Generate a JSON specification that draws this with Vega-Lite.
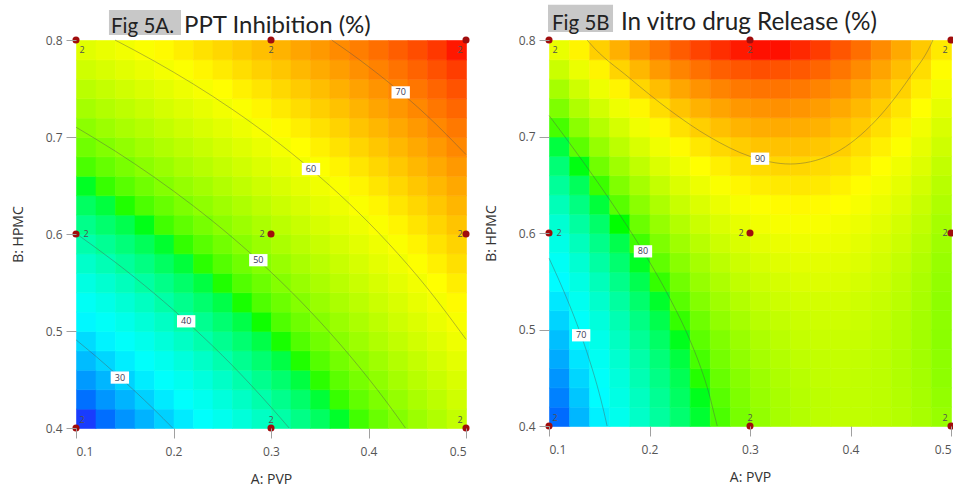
{
"$schema": "https://vega.github.io/schema/vega-lite/v6.json",
"background": "white",
"padding": {"left": 11, "top": 4, "right": 0, "bottom": 0},
"spacing": 14,
"resolve": {"scale": {"color": "independent", "stroke": "independent", "x": "independent", "y": "independent"}},
"config": {
 "view": {"stroke": null},
 "font": "Open Sans",
 "axis": {"domain": false, "grid": false, "tickColor": "#a0a0a0", "tickSize": 10, "labelFont": "Open Sans", "labelFontSize": 12, "labelColor": "#555555", "titleFont": "Open Sans", "titleFontSize": 14, "titleFontWeight": "normal", "titleColor": "#333333"},
 "axisX": {"labelPadding": 8, "titlePadding": 15},
 "axisY": {"labelPadding": 4, "titlePadding": 20}
},
"datasets": {
"design": [
 {"pvp":0.1,"hpmc":0.4,"n":2},{"pvp":0.3,"hpmc":0.4,"n":2},{"pvp":0.5,"hpmc":0.4,"n":2},
 {"pvp":0.1,"hpmc":0.6,"n":2},{"pvp":0.3,"hpmc":0.6,"n":2},{"pvp":0.5,"hpmc":0.6,"n":2},
 {"pvp":0.1,"hpmc":0.8,"n":2},{"pvp":0.3,"hpmc":0.8,"n":2},{"pvp":0.5,"hpmc":0.8,"n":2}
],
"contA": [
 {"level":30,"ord":0,"pvp":0.1,"hpmc":0.4909},{"level":30,"ord":1,"pvp":0.12,"hpmc":0.4742},{"level":30,"ord":2,"pvp":0.14,"hpmc":0.4566},{"level":30,"ord":3,"pvp":0.16,"hpmc":0.4383},{"level":30,"ord":4,"pvp":0.18,"hpmc":0.4192},{"level":30,"ord":5,"pvp":0.1991,"hpmc":0.4},
 {"level":40,"ord":0,"pvp":0.1,"hpmc":0.6005},{"level":40,"ord":1,"pvp":0.14,"hpmc":0.5711},{"level":40,"ord":2,"pvp":0.18,"hpmc":0.5389},{"level":40,"ord":3,"pvp":0.22,"hpmc":0.5036},{"level":40,"ord":4,"pvp":0.26,"hpmc":0.4648},{"level":40,"ord":5,"pvp":0.30,"hpmc":0.4215},{"level":40,"ord":6,"pvp":0.3186,"hpmc":0.4},
 {"level":50,"ord":0,"pvp":0.1,"hpmc":0.7101},{"level":50,"ord":1,"pvp":0.14,"hpmc":0.6856},{"level":50,"ord":2,"pvp":0.18,"hpmc":0.6587},{"level":50,"ord":3,"pvp":0.22,"hpmc":0.6292},{"level":50,"ord":4,"pvp":0.26,"hpmc":0.5967},{"level":50,"ord":5,"pvp":0.30,"hpmc":0.5607},{"level":50,"ord":6,"pvp":0.34,"hpmc":0.5206},{"level":50,"ord":7,"pvp":0.38,"hpmc":0.4756},{"level":50,"ord":8,"pvp":0.42,"hpmc":0.4249},{"level":50,"ord":9,"pvp":0.4379,"hpmc":0.4},
 {"level":60,"ord":0,"pvp":0.14,"hpmc":0.8},{"level":60,"ord":1,"pvp":0.18,"hpmc":0.7784},{"level":60,"ord":2,"pvp":0.22,"hpmc":0.7548},{"level":60,"ord":3,"pvp":0.26,"hpmc":0.7287},{"level":60,"ord":4,"pvp":0.30,"hpmc":0.6998},{"level":60,"ord":5,"pvp":0.34,"hpmc":0.6676},{"level":60,"ord":6,"pvp":0.38,"hpmc":0.6316},{"level":60,"ord":7,"pvp":0.42,"hpmc":0.5909},{"level":60,"ord":8,"pvp":0.46,"hpmc":0.5446},{"level":60,"ord":9,"pvp":0.5,"hpmc":0.4914},
 {"level":70,"ord":0,"pvp":0.3622,"hpmc":0.8},{"level":70,"ord":1,"pvp":0.38,"hpmc":0.7875},{"level":70,"ord":2,"pvp":0.42,"hpmc":0.7568},{"level":70,"ord":3,"pvp":0.46,"hpmc":0.722},{"level":70,"ord":4,"pvp":0.5,"hpmc":0.6819}
],
"labA": [
 {"level":30,"pvp":0.145,"hpmc":0.452},{"level":40,"pvp":0.213,"hpmc":0.510},{"level":50,"pvp":0.287,"hpmc":0.573},{"level":60,"pvp":0.341,"hpmc":0.667},{"level":70,"pvp":0.433,"hpmc":0.746}
],
"contB": [
 {"level":70,"ord":0,"pvp":0.1,"hpmc":0.574},{"level":70,"ord":1,"pvp":0.11,"hpmc":0.551},{"level":70,"ord":2,"pvp":0.12,"hpmc":0.5264},{"level":70,"ord":3,"pvp":0.13,"hpmc":0.4995},{"level":70,"ord":4,"pvp":0.14,"hpmc":0.4692},{"level":70,"ord":5,"pvp":0.15,"hpmc":0.4338},{"level":70,"ord":6,"pvp":0.156,"hpmc":0.4085},{"level":70,"ord":7,"pvp":0.1578,"hpmc":0.4},
 {"level":80,"ord":0,"pvp":0.1,"hpmc":0.7218},{"level":80,"ord":1,"pvp":0.12,"hpmc":0.6938},{"level":80,"ord":2,"pvp":0.14,"hpmc":0.665},{"level":80,"ord":3,"pvp":0.16,"hpmc":0.6351},{"level":80,"ord":4,"pvp":0.18,"hpmc":0.6036},{"level":80,"ord":5,"pvp":0.2,"hpmc":0.57},{"level":80,"ord":6,"pvp":0.22,"hpmc":0.5328},{"level":80,"ord":7,"pvp":0.24,"hpmc":0.4896},{"level":80,"ord":8,"pvp":0.25,"hpmc":0.4633},{"level":80,"ord":9,"pvp":0.26,"hpmc":0.4306},{"level":80,"ord":10,"pvp":0.264,"hpmc":0.4139},{"level":80,"ord":11,"pvp":0.2674,"hpmc":0.4},
 {"level":90,"ord":0,"pvp":0.138,"hpmc":0.8},{"level":90,"ord":1,"pvp":0.14,"hpmc":0.7975},{"level":90,"ord":2,"pvp":0.18,"hpmc":0.7607},{"level":90,"ord":3,"pvp":0.22,"hpmc":0.7274},{"level":90,"ord":4,"pvp":0.26,"hpmc":0.6994},{"level":90,"ord":5,"pvp":0.3,"hpmc":0.6794},{"level":90,"ord":6,"pvp":0.34,"hpmc":0.6715},{"level":90,"ord":7,"pvp":0.38,"hpmc":0.6807},{"level":90,"ord":8,"pvp":0.42,"hpmc":0.7111},{"level":90,"ord":9,"pvp":0.46,"hpmc":0.7628},{"level":90,"ord":10,"pvp":0.48,"hpmc":0.7954},{"level":90,"ord":11,"pvp":0.482,"hpmc":0.8}
],
"labB": [
 {"level":70,"pvp":0.132,"hpmc":0.494},{"level":80,"pvp":0.1935,"hpmc":0.581},{"level":90,"pvp":0.31,"hpmc":0.677}
],
"gridA": [
{"pvp":0.11,"hpmc":0.41,"val":23.4},{"pvp":0.11,"hpmc":0.43,"val":25.2},{"pvp":0.11,"hpmc":0.45,"val":27.1},{"pvp":0.11,"hpmc":0.47,"val":28.9},{"pvp":0.11,"hpmc":0.49,"val":30.7},{"pvp":0.11,"hpmc":0.51,"val":32.5},{"pvp":0.11,"hpmc":0.53,"val":34.3},{"pvp":0.11,"hpmc":0.55,"val":36.1},{"pvp":0.11,"hpmc":0.57,"val":37.9},{"pvp":0.11,"hpmc":0.59,"val":39.7},{"pvp":0.11,"hpmc":0.61,"val":41.5},{"pvp":0.11,"hpmc":0.63,"val":43.3},{"pvp":0.11,"hpmc":0.65,"val":45.1},{"pvp":0.11,"hpmc":0.67,"val":46.9},{"pvp":0.11,"hpmc":0.69,"val":48.7},{"pvp":0.11,"hpmc":0.71,"val":50.5},{"pvp":0.11,"hpmc":0.73,"val":52.3},{"pvp":0.11,"hpmc":0.75,"val":54.1},{"pvp":0.11,"hpmc":0.77,"val":56.0},{"pvp":0.11,"hpmc":0.79,"val":57.8},
{"pvp":0.13,"hpmc":0.41,"val":25.1},{"pvp":0.13,"hpmc":0.43,"val":26.9},{"pvp":0.13,"hpmc":0.45,"val":28.6},{"pvp":0.13,"hpmc":0.47,"val":30.4},{"pvp":0.13,"hpmc":0.49,"val":32.2},{"pvp":0.13,"hpmc":0.51,"val":33.9},{"pvp":0.13,"hpmc":0.53,"val":35.7},{"pvp":0.13,"hpmc":0.55,"val":37.5},{"pvp":0.13,"hpmc":0.57,"val":39.2},{"pvp":0.13,"hpmc":0.59,"val":41.0},{"pvp":0.13,"hpmc":0.61,"val":42.8},{"pvp":0.13,"hpmc":0.63,"val":44.5},{"pvp":0.13,"hpmc":0.65,"val":46.3},{"pvp":0.13,"hpmc":0.67,"val":48.1},{"pvp":0.13,"hpmc":0.69,"val":49.8},{"pvp":0.13,"hpmc":0.71,"val":51.6},{"pvp":0.13,"hpmc":0.73,"val":53.4},{"pvp":0.13,"hpmc":0.75,"val":55.1},{"pvp":0.13,"hpmc":0.77,"val":56.9},{"pvp":0.13,"hpmc":0.79,"val":58.7},
{"pvp":0.15,"hpmc":0.41,"val":26.8},{"pvp":0.15,"hpmc":0.43,"val":28.5},{"pvp":0.15,"hpmc":0.45,"val":30.2},{"pvp":0.15,"hpmc":0.47,"val":31.9},{"pvp":0.15,"hpmc":0.49,"val":33.7},{"pvp":0.15,"hpmc":0.51,"val":35.4},{"pvp":0.15,"hpmc":0.53,"val":37.1},{"pvp":0.15,"hpmc":0.55,"val":38.8},{"pvp":0.15,"hpmc":0.57,"val":40.6},{"pvp":0.15,"hpmc":0.59,"val":42.3},{"pvp":0.15,"hpmc":0.61,"val":44.0},{"pvp":0.15,"hpmc":0.63,"val":45.8},{"pvp":0.15,"hpmc":0.65,"val":47.5},{"pvp":0.15,"hpmc":0.67,"val":49.2},{"pvp":0.15,"hpmc":0.69,"val":50.9},{"pvp":0.15,"hpmc":0.71,"val":52.7},{"pvp":0.15,"hpmc":0.73,"val":54.4},{"pvp":0.15,"hpmc":0.75,"val":56.1},{"pvp":0.15,"hpmc":0.77,"val":57.9},{"pvp":0.15,"hpmc":0.79,"val":59.6},
{"pvp":0.17,"hpmc":0.41,"val":28.4},{"pvp":0.17,"hpmc":0.43,"val":30.1},{"pvp":0.17,"hpmc":0.45,"val":31.8},{"pvp":0.17,"hpmc":0.47,"val":33.5},{"pvp":0.17,"hpmc":0.49,"val":35.2},{"pvp":0.17,"hpmc":0.51,"val":36.9},{"pvp":0.17,"hpmc":0.53,"val":38.5},{"pvp":0.17,"hpmc":0.55,"val":40.2},{"pvp":0.17,"hpmc":0.57,"val":41.9},{"pvp":0.17,"hpmc":0.59,"val":43.6},{"pvp":0.17,"hpmc":0.61,"val":45.3},{"pvp":0.17,"hpmc":0.63,"val":47.0},{"pvp":0.17,"hpmc":0.65,"val":48.7},{"pvp":0.17,"hpmc":0.67,"val":50.4},{"pvp":0.17,"hpmc":0.69,"val":52.1},{"pvp":0.17,"hpmc":0.71,"val":53.7},{"pvp":0.17,"hpmc":0.73,"val":55.4},{"pvp":0.17,"hpmc":0.75,"val":57.1},{"pvp":0.17,"hpmc":0.77,"val":58.8},{"pvp":0.17,"hpmc":0.79,"val":60.5},
{"pvp":0.19,"hpmc":0.41,"val":30.1},{"pvp":0.19,"hpmc":0.43,"val":31.7},{"pvp":0.19,"hpmc":0.45,"val":33.4},{"pvp":0.19,"hpmc":0.47,"val":35.0},{"pvp":0.19,"hpmc":0.49,"val":36.7},{"pvp":0.19,"hpmc":0.51,"val":38.3},{"pvp":0.19,"hpmc":0.53,"val":40.0},{"pvp":0.19,"hpmc":0.55,"val":41.6},{"pvp":0.19,"hpmc":0.57,"val":43.3},{"pvp":0.19,"hpmc":0.59,"val":44.9},{"pvp":0.19,"hpmc":0.61,"val":46.6},{"pvp":0.19,"hpmc":0.63,"val":48.2},{"pvp":0.19,"hpmc":0.65,"val":49.9},{"pvp":0.19,"hpmc":0.67,"val":51.5},{"pvp":0.19,"hpmc":0.69,"val":53.2},{"pvp":0.19,"hpmc":0.71,"val":54.8},{"pvp":0.19,"hpmc":0.73,"val":56.5},{"pvp":0.19,"hpmc":0.75,"val":58.1},{"pvp":0.19,"hpmc":0.77,"val":59.8},{"pvp":0.19,"hpmc":0.79,"val":61.4},
{"pvp":0.21,"hpmc":0.41,"val":31.7},{"pvp":0.21,"hpmc":0.43,"val":33.3},{"pvp":0.21,"hpmc":0.45,"val":34.9},{"pvp":0.21,"hpmc":0.47,"val":36.6},{"pvp":0.21,"hpmc":0.49,"val":38.2},{"pvp":0.21,"hpmc":0.51,"val":39.8},{"pvp":0.21,"hpmc":0.53,"val":41.4},{"pvp":0.21,"hpmc":0.55,"val":43.0},{"pvp":0.21,"hpmc":0.57,"val":44.6},{"pvp":0.21,"hpmc":0.59,"val":46.2},{"pvp":0.21,"hpmc":0.61,"val":47.8},{"pvp":0.21,"hpmc":0.63,"val":49.5},{"pvp":0.21,"hpmc":0.65,"val":51.1},{"pvp":0.21,"hpmc":0.67,"val":52.7},{"pvp":0.21,"hpmc":0.69,"val":54.3},{"pvp":0.21,"hpmc":0.71,"val":55.9},{"pvp":0.21,"hpmc":0.73,"val":57.5},{"pvp":0.21,"hpmc":0.75,"val":59.1},{"pvp":0.21,"hpmc":0.77,"val":60.7},{"pvp":0.21,"hpmc":0.79,"val":62.4},
{"pvp":0.23,"hpmc":0.41,"val":33.4},{"pvp":0.23,"hpmc":0.43,"val":34.9},{"pvp":0.23,"hpmc":0.45,"val":36.5},{"pvp":0.23,"hpmc":0.47,"val":38.1},{"pvp":0.23,"hpmc":0.49,"val":39.7},{"pvp":0.23,"hpmc":0.51,"val":41.2},{"pvp":0.23,"hpmc":0.53,"val":42.8},{"pvp":0.23,"hpmc":0.55,"val":44.4},{"pvp":0.23,"hpmc":0.57,"val":46.0},{"pvp":0.23,"hpmc":0.59,"val":47.5},{"pvp":0.23,"hpmc":0.61,"val":49.1},{"pvp":0.23,"hpmc":0.63,"val":50.7},{"pvp":0.23,"hpmc":0.65,"val":52.2},{"pvp":0.23,"hpmc":0.67,"val":53.8},{"pvp":0.23,"hpmc":0.69,"val":55.4},{"pvp":0.23,"hpmc":0.71,"val":57.0},{"pvp":0.23,"hpmc":0.73,"val":58.5},{"pvp":0.23,"hpmc":0.75,"val":60.1},{"pvp":0.23,"hpmc":0.77,"val":61.7},{"pvp":0.23,"hpmc":0.79,"val":63.3},
{"pvp":0.25,"hpmc":0.41,"val":35.0},{"pvp":0.25,"hpmc":0.43,"val":36.6},{"pvp":0.25,"hpmc":0.45,"val":38.1},{"pvp":0.25,"hpmc":0.47,"val":39.6},{"pvp":0.25,"hpmc":0.49,"val":41.2},{"pvp":0.25,"hpmc":0.51,"val":42.7},{"pvp":0.25,"hpmc":0.53,"val":44.2},{"pvp":0.25,"hpmc":0.55,"val":45.8},{"pvp":0.25,"hpmc":0.57,"val":47.3},{"pvp":0.25,"hpmc":0.59,"val":48.8},{"pvp":0.25,"hpmc":0.61,"val":50.4},{"pvp":0.25,"hpmc":0.63,"val":51.9},{"pvp":0.25,"hpmc":0.65,"val":53.4},{"pvp":0.25,"hpmc":0.67,"val":55.0},{"pvp":0.25,"hpmc":0.69,"val":56.5},{"pvp":0.25,"hpmc":0.71,"val":58.0},{"pvp":0.25,"hpmc":0.73,"val":59.6},{"pvp":0.25,"hpmc":0.75,"val":61.1},{"pvp":0.25,"hpmc":0.77,"val":62.6},{"pvp":0.25,"hpmc":0.79,"val":64.2},
{"pvp":0.27,"hpmc":0.41,"val":36.7},{"pvp":0.27,"hpmc":0.43,"val":38.2},{"pvp":0.27,"hpmc":0.45,"val":39.7},{"pvp":0.27,"hpmc":0.47,"val":41.2},{"pvp":0.27,"hpmc":0.49,"val":42.7},{"pvp":0.27,"hpmc":0.51,"val":44.2},{"pvp":0.27,"hpmc":0.53,"val":45.7},{"pvp":0.27,"hpmc":0.55,"val":47.2},{"pvp":0.27,"hpmc":0.57,"val":48.7},{"pvp":0.27,"hpmc":0.59,"val":50.2},{"pvp":0.27,"hpmc":0.61,"val":51.6},{"pvp":0.27,"hpmc":0.63,"val":53.1},{"pvp":0.27,"hpmc":0.65,"val":54.6},{"pvp":0.27,"hpmc":0.67,"val":56.1},{"pvp":0.27,"hpmc":0.69,"val":57.6},{"pvp":0.27,"hpmc":0.71,"val":59.1},{"pvp":0.27,"hpmc":0.73,"val":60.6},{"pvp":0.27,"hpmc":0.75,"val":62.1},{"pvp":0.27,"hpmc":0.77,"val":63.6},{"pvp":0.27,"hpmc":0.79,"val":65.1},
{"pvp":0.29,"hpmc":0.41,"val":38.3},{"pvp":0.29,"hpmc":0.43,"val":39.8},{"pvp":0.29,"hpmc":0.45,"val":41.3},{"pvp":0.29,"hpmc":0.47,"val":42.7},{"pvp":0.29,"hpmc":0.49,"val":44.2},{"pvp":0.29,"hpmc":0.51,"val":45.6},{"pvp":0.29,"hpmc":0.53,"val":47.1},{"pvp":0.29,"hpmc":0.55,"val":48.5},{"pvp":0.29,"hpmc":0.57,"val":50.0},{"pvp":0.29,"hpmc":0.59,"val":51.5},{"pvp":0.29,"hpmc":0.61,"val":52.9},{"pvp":0.29,"hpmc":0.63,"val":54.4},{"pvp":0.29,"hpmc":0.65,"val":55.8},{"pvp":0.29,"hpmc":0.67,"val":57.3},{"pvp":0.29,"hpmc":0.69,"val":58.7},{"pvp":0.29,"hpmc":0.71,"val":60.2},{"pvp":0.29,"hpmc":0.73,"val":61.7},{"pvp":0.29,"hpmc":0.75,"val":63.1},{"pvp":0.29,"hpmc":0.77,"val":64.6},{"pvp":0.29,"hpmc":0.79,"val":66.0},
{"pvp":0.31,"hpmc":0.41,"val":40.0},{"pvp":0.31,"hpmc":0.43,"val":41.4},{"pvp":0.31,"hpmc":0.45,"val":42.8},{"pvp":0.31,"hpmc":0.47,"val":44.3},{"pvp":0.31,"hpmc":0.49,"val":45.7},{"pvp":0.31,"hpmc":0.51,"val":47.1},{"pvp":0.31,"hpmc":0.53,"val":48.5},{"pvp":0.31,"hpmc":0.55,"val":49.9},{"pvp":0.31,"hpmc":0.57,"val":51.3},{"pvp":0.31,"hpmc":0.59,"val":52.8},{"pvp":0.31,"hpmc":0.61,"val":54.2},{"pvp":0.31,"hpmc":0.63,"val":55.6},{"pvp":0.31,"hpmc":0.65,"val":57.0},{"pvp":0.31,"hpmc":0.67,"val":58.4},{"pvp":0.31,"hpmc":0.69,"val":59.9},{"pvp":0.31,"hpmc":0.71,"val":61.3},{"pvp":0.31,"hpmc":0.73,"val":62.7},{"pvp":0.31,"hpmc":0.75,"val":64.1},{"pvp":0.31,"hpmc":0.77,"val":65.5},{"pvp":0.31,"hpmc":0.79,"val":66.9},
{"pvp":0.33,"hpmc":0.41,"val":41.7},{"pvp":0.33,"hpmc":0.43,"val":43.0},{"pvp":0.33,"hpmc":0.45,"val":44.4},{"pvp":0.33,"hpmc":0.47,"val":45.8},{"pvp":0.33,"hpmc":0.49,"val":47.2},{"pvp":0.33,"hpmc":0.51,"val":48.6},{"pvp":0.33,"hpmc":0.53,"val":49.9},{"pvp":0.33,"hpmc":0.55,"val":51.3},{"pvp":0.33,"hpmc":0.57,"val":52.7},{"pvp":0.33,"hpmc":0.59,"val":54.1},{"pvp":0.33,"hpmc":0.61,"val":55.4},{"pvp":0.33,"hpmc":0.63,"val":56.8},{"pvp":0.33,"hpmc":0.65,"val":58.2},{"pvp":0.33,"hpmc":0.67,"val":59.6},{"pvp":0.33,"hpmc":0.69,"val":61.0},{"pvp":0.33,"hpmc":0.71,"val":62.3},{"pvp":0.33,"hpmc":0.73,"val":63.7},{"pvp":0.33,"hpmc":0.75,"val":65.1},{"pvp":0.33,"hpmc":0.77,"val":66.5},{"pvp":0.33,"hpmc":0.79,"val":67.9},
{"pvp":0.35,"hpmc":0.41,"val":43.3},{"pvp":0.35,"hpmc":0.43,"val":44.7},{"pvp":0.35,"hpmc":0.45,"val":46.0},{"pvp":0.35,"hpmc":0.47,"val":47.3},{"pvp":0.35,"hpmc":0.49,"val":48.7},{"pvp":0.35,"hpmc":0.51,"val":50.0},{"pvp":0.35,"hpmc":0.53,"val":51.4},{"pvp":0.35,"hpmc":0.55,"val":52.7},{"pvp":0.35,"hpmc":0.57,"val":54.0},{"pvp":0.35,"hpmc":0.59,"val":55.4},{"pvp":0.35,"hpmc":0.61,"val":56.7},{"pvp":0.35,"hpmc":0.63,"val":58.1},{"pvp":0.35,"hpmc":0.65,"val":59.4},{"pvp":0.35,"hpmc":0.67,"val":60.7},{"pvp":0.35,"hpmc":0.69,"val":62.1},{"pvp":0.35,"hpmc":0.71,"val":63.4},{"pvp":0.35,"hpmc":0.73,"val":64.8},{"pvp":0.35,"hpmc":0.75,"val":66.1},{"pvp":0.35,"hpmc":0.77,"val":67.5},{"pvp":0.35,"hpmc":0.79,"val":68.8},
{"pvp":0.37,"hpmc":0.41,"val":45.0},{"pvp":0.37,"hpmc":0.43,"val":46.3},{"pvp":0.37,"hpmc":0.45,"val":47.6},{"pvp":0.37,"hpmc":0.47,"val":48.9},{"pvp":0.37,"hpmc":0.49,"val":50.2},{"pvp":0.37,"hpmc":0.51,"val":51.5},{"pvp":0.37,"hpmc":0.53,"val":52.8},{"pvp":0.37,"hpmc":0.55,"val":54.1},{"pvp":0.37,"hpmc":0.57,"val":55.4},{"pvp":0.37,"hpmc":0.59,"val":56.7},{"pvp":0.37,"hpmc":0.61,"val":58.0},{"pvp":0.37,"hpmc":0.63,"val":59.3},{"pvp":0.37,"hpmc":0.65,"val":60.6},{"pvp":0.37,"hpmc":0.67,"val":61.9},{"pvp":0.37,"hpmc":0.69,"val":63.2},{"pvp":0.37,"hpmc":0.71,"val":64.5},{"pvp":0.37,"hpmc":0.73,"val":65.8},{"pvp":0.37,"hpmc":0.75,"val":67.1},{"pvp":0.37,"hpmc":0.77,"val":68.4},{"pvp":0.37,"hpmc":0.79,"val":69.7},
{"pvp":0.39,"hpmc":0.41,"val":46.6},{"pvp":0.39,"hpmc":0.43,"val":47.9},{"pvp":0.39,"hpmc":0.45,"val":49.1},{"pvp":0.39,"hpmc":0.47,"val":50.4},{"pvp":0.39,"hpmc":0.49,"val":51.7},{"pvp":0.39,"hpmc":0.51,"val":52.9},{"pvp":0.39,"hpmc":0.53,"val":54.2},{"pvp":0.39,"hpmc":0.55,"val":55.5},{"pvp":0.39,"hpmc":0.57,"val":56.7},{"pvp":0.39,"hpmc":0.59,"val":58.0},{"pvp":0.39,"hpmc":0.61,"val":59.3},{"pvp":0.39,"hpmc":0.63,"val":60.5},{"pvp":0.39,"hpmc":0.65,"val":61.8},{"pvp":0.39,"hpmc":0.67,"val":63.0},{"pvp":0.39,"hpmc":0.69,"val":64.3},{"pvp":0.39,"hpmc":0.71,"val":65.6},{"pvp":0.39,"hpmc":0.73,"val":66.8},{"pvp":0.39,"hpmc":0.75,"val":68.1},{"pvp":0.39,"hpmc":0.77,"val":69.4},{"pvp":0.39,"hpmc":0.79,"val":70.6},
{"pvp":0.41,"hpmc":0.41,"val":48.3},{"pvp":0.41,"hpmc":0.43,"val":49.5},{"pvp":0.41,"hpmc":0.45,"val":50.7},{"pvp":0.41,"hpmc":0.47,"val":51.9},{"pvp":0.41,"hpmc":0.49,"val":53.2},{"pvp":0.41,"hpmc":0.51,"val":54.4},{"pvp":0.41,"hpmc":0.53,"val":55.6},{"pvp":0.41,"hpmc":0.55,"val":56.8},{"pvp":0.41,"hpmc":0.57,"val":58.1},{"pvp":0.41,"hpmc":0.59,"val":59.3},{"pvp":0.41,"hpmc":0.61,"val":60.5},{"pvp":0.41,"hpmc":0.63,"val":61.7},{"pvp":0.41,"hpmc":0.65,"val":63.0},{"pvp":0.41,"hpmc":0.67,"val":64.2},{"pvp":0.41,"hpmc":0.69,"val":65.4},{"pvp":0.41,"hpmc":0.71,"val":66.6},{"pvp":0.41,"hpmc":0.73,"val":67.9},{"pvp":0.41,"hpmc":0.75,"val":69.1},{"pvp":0.41,"hpmc":0.77,"val":70.3},{"pvp":0.41,"hpmc":0.79,"val":71.5},
{"pvp":0.43,"hpmc":0.41,"val":49.9},{"pvp":0.43,"hpmc":0.43,"val":51.1},{"pvp":0.43,"hpmc":0.45,"val":52.3},{"pvp":0.43,"hpmc":0.47,"val":53.5},{"pvp":0.43,"hpmc":0.49,"val":54.7},{"pvp":0.43,"hpmc":0.51,"val":55.9},{"pvp":0.43,"hpmc":0.53,"val":57.0},{"pvp":0.43,"hpmc":0.55,"val":58.2},{"pvp":0.43,"hpmc":0.57,"val":59.4},{"pvp":0.43,"hpmc":0.59,"val":60.6},{"pvp":0.43,"hpmc":0.61,"val":61.8},{"pvp":0.43,"hpmc":0.63,"val":63.0},{"pvp":0.43,"hpmc":0.65,"val":64.2},{"pvp":0.43,"hpmc":0.67,"val":65.3},{"pvp":0.43,"hpmc":0.69,"val":66.5},{"pvp":0.43,"hpmc":0.71,"val":67.7},{"pvp":0.43,"hpmc":0.73,"val":68.9},{"pvp":0.43,"hpmc":0.75,"val":70.1},{"pvp":0.43,"hpmc":0.77,"val":71.3},{"pvp":0.43,"hpmc":0.79,"val":72.5},
{"pvp":0.45,"hpmc":0.41,"val":51.6},{"pvp":0.45,"hpmc":0.43,"val":52.7},{"pvp":0.45,"hpmc":0.45,"val":53.9},{"pvp":0.45,"hpmc":0.47,"val":55.0},{"pvp":0.45,"hpmc":0.49,"val":56.2},{"pvp":0.45,"hpmc":0.51,"val":57.3},{"pvp":0.45,"hpmc":0.53,"val":58.5},{"pvp":0.45,"hpmc":0.55,"val":59.6},{"pvp":0.45,"hpmc":0.57,"val":60.8},{"pvp":0.45,"hpmc":0.59,"val":61.9},{"pvp":0.45,"hpmc":0.61,"val":63.1},{"pvp":0.45,"hpmc":0.63,"val":64.2},{"pvp":0.45,"hpmc":0.65,"val":65.4},{"pvp":0.45,"hpmc":0.67,"val":66.5},{"pvp":0.45,"hpmc":0.69,"val":67.6},{"pvp":0.45,"hpmc":0.71,"val":68.8},{"pvp":0.45,"hpmc":0.73,"val":69.9},{"pvp":0.45,"hpmc":0.75,"val":71.1},{"pvp":0.45,"hpmc":0.77,"val":72.2},{"pvp":0.45,"hpmc":0.79,"val":73.4},
{"pvp":0.47,"hpmc":0.41,"val":53.2},{"pvp":0.47,"hpmc":0.43,"val":54.3},{"pvp":0.47,"hpmc":0.45,"val":55.5},{"pvp":0.47,"hpmc":0.47,"val":56.6},{"pvp":0.47,"hpmc":0.49,"val":57.7},{"pvp":0.47,"hpmc":0.51,"val":58.8},{"pvp":0.47,"hpmc":0.53,"val":59.9},{"pvp":0.47,"hpmc":0.55,"val":61.0},{"pvp":0.47,"hpmc":0.57,"val":62.1},{"pvp":0.47,"hpmc":0.59,"val":63.2},{"pvp":0.47,"hpmc":0.61,"val":64.3},{"pvp":0.47,"hpmc":0.63,"val":65.4},{"pvp":0.47,"hpmc":0.65,"val":66.5},{"pvp":0.47,"hpmc":0.67,"val":67.6},{"pvp":0.47,"hpmc":0.69,"val":68.8},{"pvp":0.47,"hpmc":0.71,"val":69.9},{"pvp":0.47,"hpmc":0.73,"val":71.0},{"pvp":0.47,"hpmc":0.75,"val":72.1},{"pvp":0.47,"hpmc":0.77,"val":73.2},{"pvp":0.47,"hpmc":0.79,"val":74.3},
{"pvp":0.49,"hpmc":0.41,"val":54.9},{"pvp":0.49,"hpmc":0.43,"val":56.0},{"pvp":0.49,"hpmc":0.45,"val":57.0},{"pvp":0.49,"hpmc":0.47,"val":58.1},{"pvp":0.49,"hpmc":0.49,"val":59.2},{"pvp":0.49,"hpmc":0.51,"val":60.2},{"pvp":0.49,"hpmc":0.53,"val":61.3},{"pvp":0.49,"hpmc":0.55,"val":62.4},{"pvp":0.49,"hpmc":0.57,"val":63.5},{"pvp":0.49,"hpmc":0.59,"val":64.5},{"pvp":0.49,"hpmc":0.61,"val":65.6},{"pvp":0.49,"hpmc":0.63,"val":66.7},{"pvp":0.49,"hpmc":0.65,"val":67.7},{"pvp":0.49,"hpmc":0.67,"val":68.8},{"pvp":0.49,"hpmc":0.69,"val":69.9},{"pvp":0.49,"hpmc":0.71,"val":70.9},{"pvp":0.49,"hpmc":0.73,"val":72.0},{"pvp":0.49,"hpmc":0.75,"val":73.1},{"pvp":0.49,"hpmc":0.77,"val":74.1},{"pvp":0.49,"hpmc":0.79,"val":75.2}
],
"gridB": [
{"pvp":0.11,"hpmc":0.41,"val":64.1},{"pvp":0.11,"hpmc":0.43,"val":64.8},{"pvp":0.11,"hpmc":0.45,"val":65.5},{"pvp":0.11,"hpmc":0.47,"val":66.3},{"pvp":0.11,"hpmc":0.49,"val":67.1},{"pvp":0.11,"hpmc":0.51,"val":68.0},{"pvp":0.11,"hpmc":0.53,"val":68.9},{"pvp":0.11,"hpmc":0.55,"val":69.9},{"pvp":0.11,"hpmc":0.57,"val":71.0},{"pvp":0.11,"hpmc":0.59,"val":72.1},{"pvp":0.11,"hpmc":0.61,"val":73.3},{"pvp":0.11,"hpmc":0.63,"val":74.6},{"pvp":0.11,"hpmc":0.65,"val":75.9},{"pvp":0.11,"hpmc":0.67,"val":77.2},{"pvp":0.11,"hpmc":0.69,"val":78.7},{"pvp":0.11,"hpmc":0.71,"val":80.2},{"pvp":0.11,"hpmc":0.73,"val":81.7},{"pvp":0.11,"hpmc":0.75,"val":83.3},{"pvp":0.11,"hpmc":0.77,"val":85.0},{"pvp":0.11,"hpmc":0.79,"val":86.7},
{"pvp":0.13,"hpmc":0.41,"val":66.8},{"pvp":0.13,"hpmc":0.43,"val":67.4},{"pvp":0.13,"hpmc":0.45,"val":68.1},{"pvp":0.13,"hpmc":0.47,"val":68.8},{"pvp":0.13,"hpmc":0.49,"val":69.6},{"pvp":0.13,"hpmc":0.51,"val":70.5},{"pvp":0.13,"hpmc":0.53,"val":71.4},{"pvp":0.13,"hpmc":0.55,"val":72.3},{"pvp":0.13,"hpmc":0.57,"val":73.3},{"pvp":0.13,"hpmc":0.59,"val":74.4},{"pvp":0.13,"hpmc":0.61,"val":75.6},{"pvp":0.13,"hpmc":0.63,"val":76.8},{"pvp":0.13,"hpmc":0.65,"val":78.0},{"pvp":0.13,"hpmc":0.67,"val":79.4},{"pvp":0.13,"hpmc":0.69,"val":80.7},{"pvp":0.13,"hpmc":0.71,"val":82.2},{"pvp":0.13,"hpmc":0.73,"val":83.7},{"pvp":0.13,"hpmc":0.75,"val":85.2},{"pvp":0.13,"hpmc":0.77,"val":86.8},{"pvp":0.13,"hpmc":0.79,"val":88.5},
{"pvp":0.15,"hpmc":0.41,"val":69.3},{"pvp":0.15,"hpmc":0.43,"val":69.9},{"pvp":0.15,"hpmc":0.45,"val":70.5},{"pvp":0.15,"hpmc":0.47,"val":71.2},{"pvp":0.15,"hpmc":0.49,"val":71.9},{"pvp":0.15,"hpmc":0.51,"val":72.7},{"pvp":0.15,"hpmc":0.53,"val":73.6},{"pvp":0.15,"hpmc":0.55,"val":74.5},{"pvp":0.15,"hpmc":0.57,"val":75.5},{"pvp":0.15,"hpmc":0.59,"val":76.5},{"pvp":0.15,"hpmc":0.61,"val":77.6},{"pvp":0.15,"hpmc":0.63,"val":78.8},{"pvp":0.15,"hpmc":0.65,"val":80.0},{"pvp":0.15,"hpmc":0.67,"val":81.3},{"pvp":0.15,"hpmc":0.69,"val":82.6},{"pvp":0.15,"hpmc":0.71,"val":84.0},{"pvp":0.15,"hpmc":0.73,"val":85.4},{"pvp":0.15,"hpmc":0.75,"val":87.0},{"pvp":0.15,"hpmc":0.77,"val":88.5},{"pvp":0.15,"hpmc":0.79,"val":90.2},
{"pvp":0.17,"hpmc":0.41,"val":71.6},{"pvp":0.17,"hpmc":0.43,"val":72.2},{"pvp":0.17,"hpmc":0.45,"val":72.7},{"pvp":0.17,"hpmc":0.47,"val":73.4},{"pvp":0.17,"hpmc":0.49,"val":74.1},{"pvp":0.17,"hpmc":0.51,"val":74.8},{"pvp":0.17,"hpmc":0.53,"val":75.6},{"pvp":0.17,"hpmc":0.55,"val":76.5},{"pvp":0.17,"hpmc":0.57,"val":77.4},{"pvp":0.17,"hpmc":0.59,"val":78.4},{"pvp":0.17,"hpmc":0.61,"val":79.5},{"pvp":0.17,"hpmc":0.63,"val":80.6},{"pvp":0.17,"hpmc":0.65,"val":81.8},{"pvp":0.17,"hpmc":0.67,"val":83.0},{"pvp":0.17,"hpmc":0.69,"val":84.3},{"pvp":0.17,"hpmc":0.71,"val":85.6},{"pvp":0.17,"hpmc":0.73,"val":87.0},{"pvp":0.17,"hpmc":0.75,"val":88.5},{"pvp":0.17,"hpmc":0.77,"val":90.0},{"pvp":0.17,"hpmc":0.79,"val":91.6},
{"pvp":0.19,"hpmc":0.41,"val":73.8},{"pvp":0.19,"hpmc":0.43,"val":74.2},{"pvp":0.19,"hpmc":0.45,"val":74.8},{"pvp":0.19,"hpmc":0.47,"val":75.3},{"pvp":0.19,"hpmc":0.49,"val":76.0},{"pvp":0.19,"hpmc":0.51,"val":76.7},{"pvp":0.19,"hpmc":0.53,"val":77.5},{"pvp":0.19,"hpmc":0.55,"val":78.3},{"pvp":0.19,"hpmc":0.57,"val":79.2},{"pvp":0.19,"hpmc":0.59,"val":80.1},{"pvp":0.19,"hpmc":0.61,"val":81.1},{"pvp":0.19,"hpmc":0.63,"val":82.2},{"pvp":0.19,"hpmc":0.65,"val":83.3},{"pvp":0.19,"hpmc":0.67,"val":84.5},{"pvp":0.19,"hpmc":0.69,"val":85.8},{"pvp":0.19,"hpmc":0.71,"val":87.1},{"pvp":0.19,"hpmc":0.73,"val":88.4},{"pvp":0.19,"hpmc":0.75,"val":89.9},{"pvp":0.19,"hpmc":0.77,"val":91.3},{"pvp":0.19,"hpmc":0.79,"val":92.9},
{"pvp":0.21,"hpmc":0.41,"val":75.7},{"pvp":0.21,"hpmc":0.43,"val":76.1},{"pvp":0.21,"hpmc":0.45,"val":76.6},{"pvp":0.21,"hpmc":0.47,"val":77.1},{"pvp":0.21,"hpmc":0.49,"val":77.7},{"pvp":0.21,"hpmc":0.51,"val":78.4},{"pvp":0.21,"hpmc":0.53,"val":79.1},{"pvp":0.21,"hpmc":0.55,"val":79.9},{"pvp":0.21,"hpmc":0.57,"val":80.8},{"pvp":0.21,"hpmc":0.59,"val":81.7},{"pvp":0.21,"hpmc":0.61,"val":82.6},{"pvp":0.21,"hpmc":0.63,"val":83.6},{"pvp":0.21,"hpmc":0.65,"val":84.7},{"pvp":0.21,"hpmc":0.67,"val":85.9},{"pvp":0.21,"hpmc":0.69,"val":87.1},{"pvp":0.21,"hpmc":0.71,"val":88.3},{"pvp":0.21,"hpmc":0.73,"val":89.6},{"pvp":0.21,"hpmc":0.75,"val":91.0},{"pvp":0.21,"hpmc":0.77,"val":92.5},{"pvp":0.21,"hpmc":0.79,"val":93.9},
{"pvp":0.23,"hpmc":0.41,"val":77.4},{"pvp":0.23,"hpmc":0.43,"val":77.8},{"pvp":0.23,"hpmc":0.45,"val":78.2},{"pvp":0.23,"hpmc":0.47,"val":78.7},{"pvp":0.23,"hpmc":0.49,"val":79.3},{"pvp":0.23,"hpmc":0.51,"val":79.9},{"pvp":0.23,"hpmc":0.53,"val":80.6},{"pvp":0.23,"hpmc":0.55,"val":81.3},{"pvp":0.23,"hpmc":0.57,"val":82.1},{"pvp":0.23,"hpmc":0.59,"val":83.0},{"pvp":0.23,"hpmc":0.61,"val":83.9},{"pvp":0.23,"hpmc":0.63,"val":84.9},{"pvp":0.23,"hpmc":0.65,"val":85.9},{"pvp":0.23,"hpmc":0.67,"val":87.0},{"pvp":0.23,"hpmc":0.69,"val":88.2},{"pvp":0.23,"hpmc":0.71,"val":89.4},{"pvp":0.23,"hpmc":0.73,"val":90.7},{"pvp":0.23,"hpmc":0.75,"val":92.0},{"pvp":0.23,"hpmc":0.77,"val":93.4},{"pvp":0.23,"hpmc":0.79,"val":94.8},
{"pvp":0.25,"hpmc":0.41,"val":79.0},{"pvp":0.25,"hpmc":0.43,"val":79.3},{"pvp":0.25,"hpmc":0.45,"val":79.7},{"pvp":0.25,"hpmc":0.47,"val":80.2},{"pvp":0.25,"hpmc":0.49,"val":80.7},{"pvp":0.25,"hpmc":0.51,"val":81.2},{"pvp":0.25,"hpmc":0.53,"val":81.9},{"pvp":0.25,"hpmc":0.55,"val":82.6},{"pvp":0.25,"hpmc":0.57,"val":83.3},{"pvp":0.25,"hpmc":0.59,"val":84.1},{"pvp":0.25,"hpmc":0.61,"val":85.0},{"pvp":0.25,"hpmc":0.63,"val":85.9},{"pvp":0.25,"hpmc":0.65,"val":86.9},{"pvp":0.25,"hpmc":0.67,"val":88.0},{"pvp":0.25,"hpmc":0.69,"val":89.1},{"pvp":0.25,"hpmc":0.71,"val":90.2},{"pvp":0.25,"hpmc":0.73,"val":91.5},{"pvp":0.25,"hpmc":0.75,"val":92.8},{"pvp":0.25,"hpmc":0.77,"val":94.1},{"pvp":0.25,"hpmc":0.79,"val":95.5},
{"pvp":0.27,"hpmc":0.41,"val":80.3},{"pvp":0.27,"hpmc":0.43,"val":80.6},{"pvp":0.27,"hpmc":0.45,"val":81.0},{"pvp":0.27,"hpmc":0.47,"val":81.4},{"pvp":0.27,"hpmc":0.49,"val":81.8},{"pvp":0.27,"hpmc":0.51,"val":82.4},{"pvp":0.27,"hpmc":0.53,"val":83.0},{"pvp":0.27,"hpmc":0.55,"val":83.6},{"pvp":0.27,"hpmc":0.57,"val":84.3},{"pvp":0.27,"hpmc":0.59,"val":85.1},{"pvp":0.27,"hpmc":0.61,"val":85.9},{"pvp":0.27,"hpmc":0.63,"val":86.8},{"pvp":0.27,"hpmc":0.65,"val":87.7},{"pvp":0.27,"hpmc":0.67,"val":88.7},{"pvp":0.27,"hpmc":0.69,"val":89.8},{"pvp":0.27,"hpmc":0.71,"val":90.9},{"pvp":0.27,"hpmc":0.73,"val":92.1},{"pvp":0.27,"hpmc":0.75,"val":93.4},{"pvp":0.27,"hpmc":0.77,"val":94.7},{"pvp":0.27,"hpmc":0.79,"val":96.0},
{"pvp":0.29,"hpmc":0.41,"val":81.5},{"pvp":0.29,"hpmc":0.43,"val":81.7},{"pvp":0.29,"hpmc":0.45,"val":82.0},{"pvp":0.29,"hpmc":0.47,"val":82.4},{"pvp":0.29,"hpmc":0.49,"val":82.8},{"pvp":0.29,"hpmc":0.51,"val":83.3},{"pvp":0.29,"hpmc":0.53,"val":83.9},{"pvp":0.29,"hpmc":0.55,"val":84.5},{"pvp":0.29,"hpmc":0.57,"val":85.1},{"pvp":0.29,"hpmc":0.59,"val":85.8},{"pvp":0.29,"hpmc":0.61,"val":86.6},{"pvp":0.29,"hpmc":0.63,"val":87.5},{"pvp":0.29,"hpmc":0.65,"val":88.4},{"pvp":0.29,"hpmc":0.67,"val":89.3},{"pvp":0.29,"hpmc":0.69,"val":90.3},{"pvp":0.29,"hpmc":0.71,"val":91.4},{"pvp":0.29,"hpmc":0.73,"val":92.6},{"pvp":0.29,"hpmc":0.75,"val":93.8},{"pvp":0.29,"hpmc":0.77,"val":95.0},{"pvp":0.29,"hpmc":0.79,"val":96.3},
{"pvp":0.31,"hpmc":0.41,"val":82.5},{"pvp":0.31,"hpmc":0.43,"val":82.7},{"pvp":0.31,"hpmc":0.45,"val":82.9},{"pvp":0.31,"hpmc":0.47,"val":83.3},{"pvp":0.31,"hpmc":0.49,"val":83.6},{"pvp":0.31,"hpmc":0.51,"val":84.1},{"pvp":0.31,"hpmc":0.53,"val":84.6},{"pvp":0.31,"hpmc":0.55,"val":85.1},{"pvp":0.31,"hpmc":0.57,"val":85.7},{"pvp":0.31,"hpmc":0.59,"val":86.4},{"pvp":0.31,"hpmc":0.61,"val":87.2},{"pvp":0.31,"hpmc":0.63,"val":87.9},{"pvp":0.31,"hpmc":0.65,"val":88.8},{"pvp":0.31,"hpmc":0.67,"val":89.7},{"pvp":0.31,"hpmc":0.69,"val":90.7},{"pvp":0.31,"hpmc":0.71,"val":91.7},{"pvp":0.31,"hpmc":0.73,"val":92.8},{"pvp":0.31,"hpmc":0.75,"val":94.0},{"pvp":0.31,"hpmc":0.77,"val":95.2},{"pvp":0.31,"hpmc":0.79,"val":96.4},
{"pvp":0.33,"hpmc":0.41,"val":83.3},{"pvp":0.33,"hpmc":0.43,"val":83.4},{"pvp":0.33,"hpmc":0.45,"val":83.6},{"pvp":0.33,"hpmc":0.47,"val":83.9},{"pvp":0.33,"hpmc":0.49,"val":84.2},{"pvp":0.33,"hpmc":0.51,"val":84.6},{"pvp":0.33,"hpmc":0.53,"val":85.1},{"pvp":0.33,"hpmc":0.55,"val":85.6},{"pvp":0.33,"hpmc":0.57,"val":86.2},{"pvp":0.33,"hpmc":0.59,"val":86.8},{"pvp":0.33,"hpmc":0.61,"val":87.5},{"pvp":0.33,"hpmc":0.63,"val":88.2},{"pvp":0.33,"hpmc":0.65,"val":89.0},{"pvp":0.33,"hpmc":0.67,"val":89.9},{"pvp":0.33,"hpmc":0.69,"val":90.8},{"pvp":0.33,"hpmc":0.71,"val":91.8},{"pvp":0.33,"hpmc":0.73,"val":92.9},{"pvp":0.33,"hpmc":0.75,"val":94.0},{"pvp":0.33,"hpmc":0.77,"val":95.1},{"pvp":0.33,"hpmc":0.79,"val":96.4},
{"pvp":0.35,"hpmc":0.41,"val":83.9},{"pvp":0.35,"hpmc":0.43,"val":84.0},{"pvp":0.35,"hpmc":0.45,"val":84.1},{"pvp":0.35,"hpmc":0.47,"val":84.4},{"pvp":0.35,"hpmc":0.49,"val":84.7},{"pvp":0.35,"hpmc":0.51,"val":85.0},{"pvp":0.35,"hpmc":0.53,"val":85.4},{"pvp":0.35,"hpmc":0.55,"val":85.9},{"pvp":0.35,"hpmc":0.57,"val":86.4},{"pvp":0.35,"hpmc":0.59,"val":87.0},{"pvp":0.35,"hpmc":0.61,"val":87.6},{"pvp":0.35,"hpmc":0.63,"val":88.3},{"pvp":0.35,"hpmc":0.65,"val":89.1},{"pvp":0.35,"hpmc":0.67,"val":89.9},{"pvp":0.35,"hpmc":0.69,"val":90.8},{"pvp":0.35,"hpmc":0.71,"val":91.7},{"pvp":0.35,"hpmc":0.73,"val":92.7},{"pvp":0.35,"hpmc":0.75,"val":93.8},{"pvp":0.35,"hpmc":0.77,"val":94.9},{"pvp":0.35,"hpmc":0.79,"val":96.1},
{"pvp":0.37,"hpmc":0.41,"val":84.3},{"pvp":0.37,"hpmc":0.43,"val":84.3},{"pvp":0.37,"hpmc":0.45,"val":84.5},{"pvp":0.37,"hpmc":0.47,"val":84.6},{"pvp":0.37,"hpmc":0.49,"val":84.9},{"pvp":0.37,"hpmc":0.51,"val":85.2},{"pvp":0.37,"hpmc":0.53,"val":85.5},{"pvp":0.37,"hpmc":0.55,"val":86.0},{"pvp":0.37,"hpmc":0.57,"val":86.4},{"pvp":0.37,"hpmc":0.59,"val":87.0},{"pvp":0.37,"hpmc":0.61,"val":87.6},{"pvp":0.37,"hpmc":0.63,"val":88.2},{"pvp":0.37,"hpmc":0.65,"val":89.0},{"pvp":0.37,"hpmc":0.67,"val":89.7},{"pvp":0.37,"hpmc":0.69,"val":90.6},{"pvp":0.37,"hpmc":0.71,"val":91.5},{"pvp":0.37,"hpmc":0.73,"val":92.4},{"pvp":0.37,"hpmc":0.75,"val":93.4},{"pvp":0.37,"hpmc":0.77,"val":94.5},{"pvp":0.37,"hpmc":0.79,"val":95.7},
{"pvp":0.39,"hpmc":0.41,"val":84.5},{"pvp":0.39,"hpmc":0.43,"val":84.5},{"pvp":0.39,"hpmc":0.45,"val":84.6},{"pvp":0.39,"hpmc":0.47,"val":84.7},{"pvp":0.39,"hpmc":0.49,"val":84.9},{"pvp":0.39,"hpmc":0.51,"val":85.2},{"pvp":0.39,"hpmc":0.53,"val":85.5},{"pvp":0.39,"hpmc":0.55,"val":85.9},{"pvp":0.39,"hpmc":0.57,"val":86.3},{"pvp":0.39,"hpmc":0.59,"val":86.8},{"pvp":0.39,"hpmc":0.61,"val":87.3},{"pvp":0.39,"hpmc":0.63,"val":88.0},{"pvp":0.39,"hpmc":0.65,"val":88.6},{"pvp":0.39,"hpmc":0.67,"val":89.4},{"pvp":0.39,"hpmc":0.69,"val":90.2},{"pvp":0.39,"hpmc":0.71,"val":91.0},{"pvp":0.39,"hpmc":0.73,"val":91.9},{"pvp":0.39,"hpmc":0.75,"val":92.9},{"pvp":0.39,"hpmc":0.77,"val":93.9},{"pvp":0.39,"hpmc":0.79,"val":95.0},
{"pvp":0.41,"hpmc":0.41,"val":84.5},{"pvp":0.41,"hpmc":0.43,"val":84.5},{"pvp":0.41,"hpmc":0.45,"val":84.5},{"pvp":0.41,"hpmc":0.47,"val":84.6},{"pvp":0.41,"hpmc":0.49,"val":84.8},{"pvp":0.41,"hpmc":0.51,"val":85.0},{"pvp":0.41,"hpmc":0.53,"val":85.2},{"pvp":0.41,"hpmc":0.55,"val":85.6},{"pvp":0.41,"hpmc":0.57,"val":86.0},{"pvp":0.41,"hpmc":0.59,"val":86.4},{"pvp":0.41,"hpmc":0.61,"val":86.9},{"pvp":0.41,"hpmc":0.63,"val":87.5},{"pvp":0.41,"hpmc":0.65,"val":88.1},{"pvp":0.41,"hpmc":0.67,"val":88.8},{"pvp":0.41,"hpmc":0.69,"val":89.5},{"pvp":0.41,"hpmc":0.71,"val":90.4},{"pvp":0.41,"hpmc":0.73,"val":91.2},{"pvp":0.41,"hpmc":0.75,"val":92.1},{"pvp":0.41,"hpmc":0.77,"val":93.1},{"pvp":0.41,"hpmc":0.79,"val":94.2},
{"pvp":0.43,"hpmc":0.41,"val":84.3},{"pvp":0.43,"hpmc":0.43,"val":84.3},{"pvp":0.43,"hpmc":0.45,"val":84.3},{"pvp":0.43,"hpmc":0.47,"val":84.3},{"pvp":0.43,"hpmc":0.49,"val":84.4},{"pvp":0.43,"hpmc":0.51,"val":84.6},{"pvp":0.43,"hpmc":0.53,"val":84.8},{"pvp":0.43,"hpmc":0.55,"val":85.1},{"pvp":0.43,"hpmc":0.57,"val":85.4},{"pvp":0.43,"hpmc":0.59,"val":85.8},{"pvp":0.43,"hpmc":0.61,"val":86.3},{"pvp":0.43,"hpmc":0.63,"val":86.8},{"pvp":0.43,"hpmc":0.65,"val":87.4},{"pvp":0.43,"hpmc":0.67,"val":88.0},{"pvp":0.43,"hpmc":0.69,"val":88.7},{"pvp":0.43,"hpmc":0.71,"val":89.5},{"pvp":0.43,"hpmc":0.73,"val":90.3},{"pvp":0.43,"hpmc":0.75,"val":91.2},{"pvp":0.43,"hpmc":0.77,"val":92.1},{"pvp":0.43,"hpmc":0.79,"val":93.1},
{"pvp":0.45,"hpmc":0.41,"val":84.0},{"pvp":0.45,"hpmc":0.43,"val":83.9},{"pvp":0.45,"hpmc":0.45,"val":83.8},{"pvp":0.45,"hpmc":0.47,"val":83.8},{"pvp":0.45,"hpmc":0.49,"val":83.9},{"pvp":0.45,"hpmc":0.51,"val":84.0},{"pvp":0.45,"hpmc":0.53,"val":84.2},{"pvp":0.45,"hpmc":0.55,"val":84.4},{"pvp":0.45,"hpmc":0.57,"val":84.7},{"pvp":0.45,"hpmc":0.59,"val":85.1},{"pvp":0.45,"hpmc":0.61,"val":85.5},{"pvp":0.45,"hpmc":0.63,"val":86.0},{"pvp":0.45,"hpmc":0.65,"val":86.5},{"pvp":0.45,"hpmc":0.67,"val":87.1},{"pvp":0.45,"hpmc":0.69,"val":87.8},{"pvp":0.45,"hpmc":0.71,"val":88.5},{"pvp":0.45,"hpmc":0.73,"val":89.2},{"pvp":0.45,"hpmc":0.75,"val":90.1},{"pvp":0.45,"hpmc":0.77,"val":91.0},{"pvp":0.45,"hpmc":0.79,"val":91.9},
{"pvp":0.47,"hpmc":0.41,"val":83.4},{"pvp":0.47,"hpmc":0.43,"val":83.3},{"pvp":0.47,"hpmc":0.45,"val":83.2},{"pvp":0.47,"hpmc":0.47,"val":83.1},{"pvp":0.47,"hpmc":0.49,"val":83.1},{"pvp":0.47,"hpmc":0.51,"val":83.2},{"pvp":0.47,"hpmc":0.53,"val":83.4},{"pvp":0.47,"hpmc":0.55,"val":83.5},{"pvp":0.47,"hpmc":0.57,"val":83.8},{"pvp":0.47,"hpmc":0.59,"val":84.1},{"pvp":0.47,"hpmc":0.61,"val":84.5},{"pvp":0.47,"hpmc":0.63,"val":84.9},{"pvp":0.47,"hpmc":0.65,"val":85.4},{"pvp":0.47,"hpmc":0.67,"val":86.0},{"pvp":0.47,"hpmc":0.69,"val":86.6},{"pvp":0.47,"hpmc":0.71,"val":87.2},{"pvp":0.47,"hpmc":0.73,"val":88.0},{"pvp":0.47,"hpmc":0.75,"val":88.8},{"pvp":0.47,"hpmc":0.77,"val":89.6},{"pvp":0.47,"hpmc":0.79,"val":90.5},
{"pvp":0.49,"hpmc":0.41,"val":82.7},{"pvp":0.49,"hpmc":0.43,"val":82.5},{"pvp":0.49,"hpmc":0.45,"val":82.3},{"pvp":0.49,"hpmc":0.47,"val":82.3},{"pvp":0.49,"hpmc":0.49,"val":82.2},{"pvp":0.49,"hpmc":0.51,"val":82.3},{"pvp":0.49,"hpmc":0.53,"val":82.3},{"pvp":0.49,"hpmc":0.55,"val":82.5},{"pvp":0.49,"hpmc":0.57,"val":82.7},{"pvp":0.49,"hpmc":0.59,"val":83.0},{"pvp":0.49,"hpmc":0.61,"val":83.3},{"pvp":0.49,"hpmc":0.63,"val":83.7},{"pvp":0.49,"hpmc":0.65,"val":84.1},{"pvp":0.49,"hpmc":0.67,"val":84.6},{"pvp":0.49,"hpmc":0.69,"val":85.2},{"pvp":0.49,"hpmc":0.71,"val":85.8},{"pvp":0.49,"hpmc":0.73,"val":86.5},{"pvp":0.49,"hpmc":0.75,"val":87.3},{"pvp":0.49,"hpmc":0.77,"val":88.1},{"pvp":0.49,"hpmc":0.79,"val":89.0}
]
},
"hconcat": [
{
 "width": 390, "height": 388,
 "layer": [
  {"data": {"name": "gridA"}, "mark": {"type": "rect", "strokeWidth": 0.6},
   "encoding": {
    "x": {"field": "pvp", "type": "quantitative", "bin": {"extent": [0.1, 0.5], "step": 0.02, "nice": false}, "scale": {"domain": [0.1, 0.5], "nice": false}, "title": "A: PVP", "axis": {"values": [0.1, 0.2, 0.3, 0.4, 0.5], "format": ".1f"}},
    "y": {"field": "hpmc", "type": "quantitative", "bin": {"extent": [0.4, 0.8], "step": 0.02, "nice": false}, "scale": {"domain": [0.4, 0.8], "nice": false}, "title": "B: HPMC", "axis": {"values": [0.4, 0.5, 0.6, 0.7, 0.8], "format": ".1f"}},
    "color": {"field": "val", "type": "quantitative", "scale": {"domain": [23.5, 33.0, 45.5, 61.0, 75.5], "range": ["#0040ff", "#00ffff", "#00ff00", "#ffff00", "#ff0000"]}, "legend": null},
    "stroke": {"field": "val", "type": "quantitative", "scale": {"domain": [23.5, 33.0, 45.5, 61.0, 75.5], "range": ["#0040ff", "#00ffff", "#00ff00", "#ffff00", "#ff0000"]}, "legend": null}
   }},
  {"data": {"values": [{}]}, "mark": {"type": "rect", "color": "#c8c8c8"},
   "encoding": {"x": {"datum": 0.1338, "type": "quantitative", "title": "A: PVP"}, "x2": {"datum": 0.2077}, "y": {"datum": 0.8052, "type": "quantitative", "title": "B: HPMC"}, "y2": {"datum": 0.8309}}},
  {"data": {"values": [{}]}, "mark": {"type": "text", "text": "Fig 5A.", "font": "Lato", "fontSize": 20.5, "align": "left", "baseline": "alphabetic", "color": "#222222"},
   "encoding": {"x": {"datum": 0.1359, "type": "quantitative", "title": "A: PVP"}, "y": {"datum": 0.8072, "type": "quantitative", "title": "B: HPMC"}}},
  {"data": {"values": [{}]}, "mark": {"type": "text", "text": "PPT Inhibition (%)", "font": "Lato", "fontSize": 24, "align": "left", "baseline": "alphabetic", "color": "#222222"},
   "encoding": {"x": {"datum": 0.2108, "type": "quantitative", "title": "A: PVP"}, "y": {"datum": 0.8072, "type": "quantitative", "title": "B: HPMC"}}},
  {"data": {"name": "contA"}, "mark": {"type": "line", "strokeWidth": 1, "color": "#505050", "opacity": 0.4, "interpolate": "monotone"},
   "encoding": {"x": {"field": "pvp", "type": "quantitative", "scale": {"domain": [0.1, 0.5], "nice": false}, "title": "A: PVP"}, "y": {"field": "hpmc", "type": "quantitative", "scale": {"domain": [0.4, 0.8], "nice": false}, "title": "B: HPMC"}, "detail": {"field": "level"}, "order": {"field": "ord"}}},
  {"data": {"name": "labA"}, "mark": {"type": "point", "shape": "M-1.5,-1L1.5,-1L1.5,1L-1.5,1Z", "size": 150, "filled": true, "color": "white", "opacity": 1},
   "encoding": {"x": {"field": "pvp", "type": "quantitative", "title": "A: PVP"}, "y": {"field": "hpmc", "type": "quantitative", "title": "B: HPMC"}}},
  {"data": {"name": "labA"}, "mark": {"type": "text", "fontSize": 9, "color": "#3a3a55"},
   "encoding": {"x": {"field": "pvp", "type": "quantitative", "title": "A: PVP"}, "y": {"field": "hpmc", "type": "quantitative", "title": "B: HPMC"}, "text": {"field": "level"}}},
  {"data": {"name": "design"}, "mark": {"type": "point", "filled": true, "size": 50, "color": "#a00d0d", "opacity": 1},
   "encoding": {"x": {"field": "pvp", "type": "quantitative", "title": "A: PVP"}, "y": {"field": "hpmc", "type": "quantitative", "title": "B: HPMC"}}},
  {"data": {"name": "design"}, "mark": {"type": "text", "fontSize": 9, "color": "#505050",
    "dx": {"expr": "datum.pvp < 0.2 ? (datum.hpmc > 0.5 && datum.hpmc < 0.7 ? 10 : 6) : (datum.pvp > 0.4 ? -6 : (datum.hpmc > 0.5 && datum.hpmc < 0.7 ? -9 : 0))"},
    "dy": {"expr": "datum.hpmc > 0.7 ? 10 : (datum.hpmc < 0.5 ? -8 : 0)"}},
   "encoding": {"x": {"field": "pvp", "type": "quantitative", "title": "A: PVP"}, "y": {"field": "hpmc", "type": "quantitative", "title": "B: HPMC"}, "text": {"field": "n"}}}
 ]
},
{
 "width": 402, "height": 386,
 "layer": [
  {"data": {"name": "gridB"}, "mark": {"type": "rect", "strokeWidth": 0.6},
   "encoding": {
    "x": {"field": "pvp", "type": "quantitative", "bin": {"extent": [0.1, 0.5], "step": 0.02, "nice": false}, "scale": {"domain": [0.1, 0.5], "nice": false}, "title": "A: PVP", "axis": {"values": [0.1, 0.2, 0.3, 0.4, 0.5], "format": ".1f"}},
    "y": {"field": "hpmc", "type": "quantitative", "bin": {"extent": [0.4, 0.8], "step": 0.02, "nice": false}, "scale": {"domain": [0.4, 0.8], "nice": false}, "title": "B: HPMC", "axis": {"values": [0.4, 0.5, 0.6, 0.7, 0.8], "format": ".1f"}},
    "color": {"field": "val", "type": "quantitative", "scale": {"domain": [63.0, 70.0, 79.5, 88.0, 96.5], "range": ["#0040ff", "#00ffff", "#00ff00", "#ffff00", "#ff0000"]}, "legend": null},
    "stroke": {"field": "val", "type": "quantitative", "scale": {"domain": [63.0, 70.0, 79.5, 88.0, 96.5], "range": ["#0040ff", "#00ffff", "#00ff00", "#ffff00", "#ff0000"]}, "legend": null}
   }},
  {"data": {"values": [{}]}, "mark": {"type": "rect", "color": "#c8c8c8"},
   "encoding": {"x": {"datum": 0.099, "type": "quantitative", "title": "A: PVP"}, "x2": {"datum": 0.1637}, "y": {"datum": 0.8083, "type": "quantitative", "title": "B: HPMC"}, "y2": {"datum": 0.8365}}},
  {"data": {"values": [{}]}, "mark": {"type": "text", "text": "Fig 5B", "font": "Lato", "fontSize": 20.5, "align": "left", "baseline": "alphabetic", "color": "#222222"},
   "encoding": {"x": {"datum": 0.103, "type": "quantitative", "title": "A: PVP"}, "y": {"datum": 0.8104, "type": "quantitative", "title": "B: HPMC"}}},
  {"data": {"values": [{}]}, "mark": {"type": "text", "text": "In vitro drug Release (%)", "font": "Lato", "fontSize": 24.3, "align": "left", "baseline": "alphabetic", "color": "#222222"},
   "encoding": {"x": {"datum": 0.1716, "type": "quantitative", "title": "A: PVP"}, "y": {"datum": 0.8104, "type": "quantitative", "title": "B: HPMC"}}},
  {"data": {"name": "contB"}, "mark": {"type": "line", "strokeWidth": 1, "color": "#505050", "opacity": 0.4, "interpolate": "monotone"},
   "encoding": {"x": {"field": "pvp", "type": "quantitative", "scale": {"domain": [0.1, 0.5], "nice": false}, "title": "A: PVP"}, "y": {"field": "hpmc", "type": "quantitative", "scale": {"domain": [0.4, 0.8], "nice": false}, "title": "B: HPMC"}, "detail": {"field": "level"}, "order": {"field": "ord"}}},
  {"data": {"name": "labB"}, "mark": {"type": "point", "shape": "M-1.5,-1L1.5,-1L1.5,1L-1.5,1Z", "size": 150, "filled": true, "color": "white", "opacity": 1},
   "encoding": {"x": {"field": "pvp", "type": "quantitative", "title": "A: PVP"}, "y": {"field": "hpmc", "type": "quantitative", "title": "B: HPMC"}}},
  {"data": {"name": "labB"}, "mark": {"type": "text", "fontSize": 9, "color": "#3a3a55"},
   "encoding": {"x": {"field": "pvp", "type": "quantitative", "title": "A: PVP"}, "y": {"field": "hpmc", "type": "quantitative", "title": "B: HPMC"}, "text": {"field": "level"}}},
  {"data": {"name": "design"}, "mark": {"type": "point", "filled": true, "size": 50, "color": "#a00d0d", "opacity": 1},
   "encoding": {"x": {"field": "pvp", "type": "quantitative", "title": "A: PVP"}, "y": {"field": "hpmc", "type": "quantitative", "title": "B: HPMC"}}},
  {"data": {"name": "design"}, "mark": {"type": "text", "fontSize": 9, "color": "#505050",
    "dx": {"expr": "datum.pvp < 0.2 ? (datum.hpmc > 0.5 && datum.hpmc < 0.7 ? 10 : 6) : (datum.pvp > 0.4 ? -6 : (datum.hpmc > 0.5 && datum.hpmc < 0.7 ? -9 : 0))"},
    "dy": {"expr": "datum.hpmc > 0.7 ? 10 : (datum.hpmc < 0.5 ? -8 : 0)"}},
   "encoding": {"x": {"field": "pvp", "type": "quantitative", "title": "A: PVP"}, "y": {"field": "hpmc", "type": "quantitative", "title": "B: HPMC"}, "text": {"field": "n"}}}
 ]
}
]
}
